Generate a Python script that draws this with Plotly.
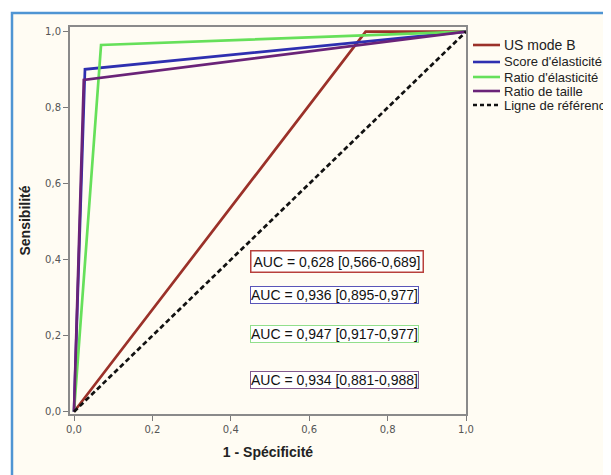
import plotly.graph_objects as go

# ---- data ----
series_names = ["US mode B", "Score d'élasticité", "Ratio d'élasticité", "Ratio de taille"]
series_fpr = [
    [0.0, 0.744, 1.0],
    [0.0, 0.028, 1.0],
    [0.0, 0.069, 1.0],
    [0.0, 0.025, 1.0],
]
series_tpr = [
    [0.0, 1.0, 1.0],
    [0.0, 0.901, 1.0],
    [0.0, 0.965, 1.0],
    [0.0, 0.873, 1.0],
]
ref_name = "Ligne de référence"
ref_x = [0.0, 1.0]
ref_y = [0.0, 1.0]
auc_labels = [
    "AUC = 0,628 [0,566-0,689]",
    "AUC = 0,936 [0,895-0,977]",
    "AUC = 0,947 [0,917-0,977]",
    "AUC = 0,934 [0,881-0,988]",
]
tick_vals = [0.0, 0.2, 0.4, 0.6, 0.8, 1.0]

# ---- styles ----
colors = ["#9b3129", "#2e2fb0", "#66e05a", "#6a2378"]
box_colors = ["#b8403c", "#5a55b8", "#92df8c", "#83598f"]
box_widths = [1.5, 1, 1, 1]
box_centers = [(336.5, 261.5), (334.5, 295), (334, 334), (334.5, 379.5)]
box_pads = [2, 0, 0, 0]

OFF = 8  # page body margin
W, H = 611 - OFF, 475 - OFF
L, T = 70 - OFF, 27 - OFF
R = W - (466 - OFF)
B = H - (414 - OFF)
PW, PH = W - L - R, H - T - B


def xp(px):
    return (px - OFF - L) / PW


def yp(py):
    return (H - B - (py - OFF)) / PH


FONT = "Liberation Sans, Arial, sans-serif"

fig = go.Figure()
for name, xs, ys, c in zip(series_names, series_fpr, series_tpr, colors):
    fig.add_trace(go.Scatter(x=xs, y=ys, mode="lines", name=name,
                             line=dict(color=c, width=2.7), showlegend=False))
fig.add_trace(go.Scatter(x=ref_x, y=ref_y, mode="lines", name=ref_name,
                         line=dict(color="#111111", width=2.7, dash="5px,3px"),
                         showlegend=False))

shapes = [
    dict(type="rect", xref="paper", yref="paper", layer="below",
         x0=xp(12), x1=xp(640), y0=yp(500), y1=yp(13),
         fillcolor="#fffcf3", line=dict(color="#4f95d3", width=2.5)),
]

leg_names = series_names + [ref_name]
leg_colors = colors + ["#111111"]
leg_dash = ["solid"] * 4 + ["4px,3px"]
leg_y = [45, 62, 77, 91, 105]
leg_sizes = [14, 13, 13, 13, 13]
annotations = []
for n, c, d, y, s in zip(leg_names, leg_colors, leg_dash, leg_y, leg_sizes):
    shapes.append(dict(type="line", xref="paper", yref="paper",
                       x0=xp(473), x1=xp(500), y0=yp(y), y1=yp(y),
                       line=dict(color=c, width=2.6, dash=d)))
    annotations.append(dict(xref="paper", yref="paper", x=xp(502), y=yp(y),
                            xanchor="left", yanchor="middle", showarrow=False,
                            text=n, font=dict(size=s, color="#222222", family=FONT)))

for lbl, bc, bw, (cx, cy), pad in zip(auc_labels, box_colors, box_widths, box_centers, box_pads):
    annotations.append(dict(xref="paper", yref="paper", x=xp(cx), y=yp(cy),
                            xanchor="center", yanchor="middle", showarrow=False,
                            text=lbl, bordercolor=bc, borderwidth=bw, borderpad=pad,
                            bgcolor="#ffffff",
                            font=dict(size=14, color="#111111", family=FONT)))

axis_common = dict(
    tickvals=tick_vals, tickformat=".1f", ticks="outside", ticklen=5,
    tickcolor="#7a7a7a", tickwidth=1.3, showline=True, linecolor="#8a8a8a",
    linewidth=2, mirror=True, showgrid=False, zeroline=False,
    tickfont=dict(size=10, color="#555555", family="DejaVu Sans, sans-serif"),
)

fig.update_layout(
    width=W, height=H,
    margin=dict(l=L, r=R, t=T, b=B),
    paper_bgcolor="#ffffff", plot_bgcolor="#ffffff",
    separators=", ",
    showlegend=False,
    shapes=shapes, annotations=annotations,
    xaxis=dict(range=[-0.0102, 1.0], **axis_common,
               title=dict(text="<b>1 - Spécificité</b>", standoff=13,
                          font=dict(size=14, color="#222222", family=FONT))),
    yaxis=dict(range=[-0.006, 1.0124], **axis_common,
               title=dict(text="<b>Sensibilité</b>", standoff=11,
                          font=dict(size=14, color="#222222", family=FONT))),
)

fig.write_html("out.html")
